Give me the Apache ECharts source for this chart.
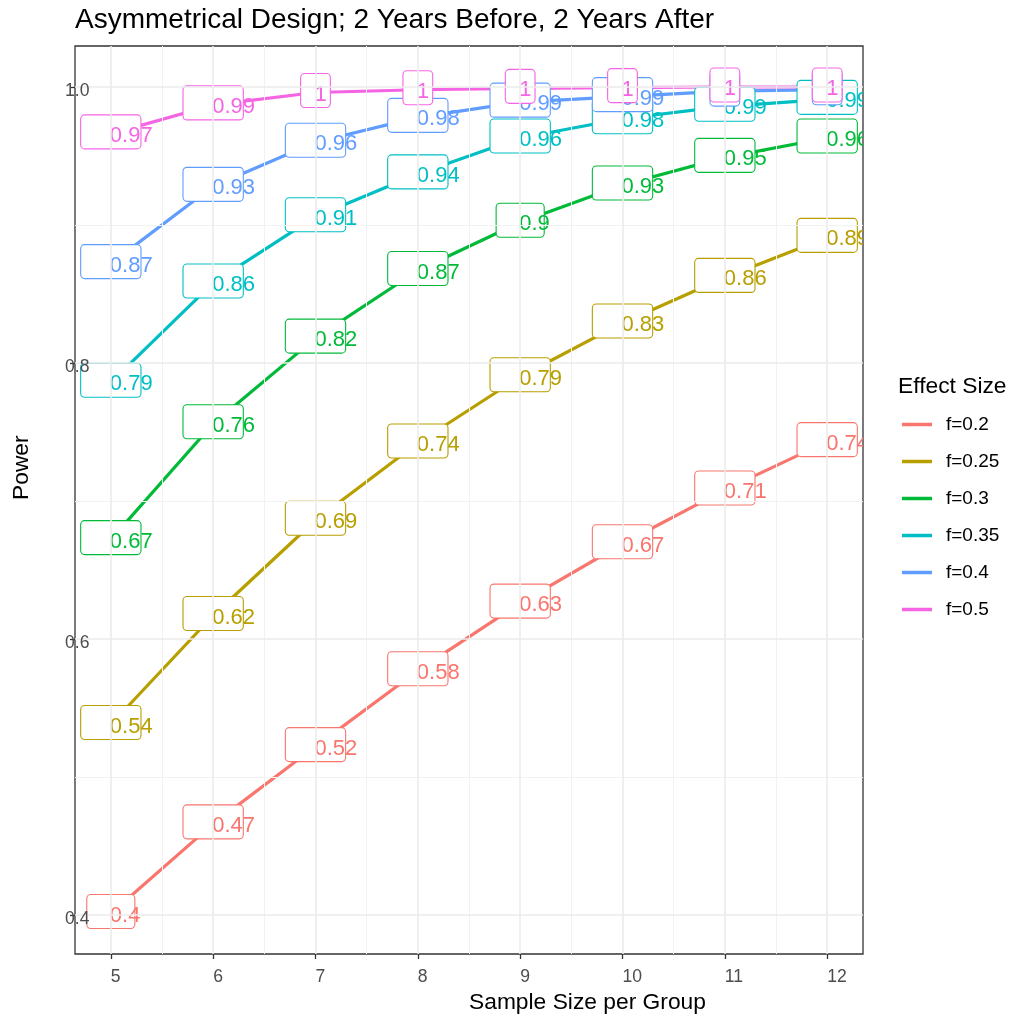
<!DOCTYPE html>
<html>
<head>
<meta charset="utf-8">
<script src="https://cdn.jsdelivr.net/npm/echarts@6/dist/echarts.min.js"></script>
<style>html,body{margin:0;padding:0;background:#fff;}#chart{width:1009px;height:1019px;}</style>
</head>
<body>
<div id="chart"></div>
<script>
// ---- data ----
const sampleSizes = [5, 6, 7, 8, 9, 10, 11, 12];
const groupNames = ['f=0.2', 'f=0.25', 'f=0.3', 'f=0.35', 'f=0.4', 'f=0.5'];
const powerF020 = [0.401, 0.466, 0.522, 0.577, 0.626, 0.669, 0.708, 0.743];
const powerF025 = [0.538, 0.617, 0.686, 0.742, 0.790, 0.829, 0.862, 0.891];
const powerF030 = [0.672, 0.756, 0.818, 0.867, 0.902, 0.929, 0.949, 0.963];
const powerF035 = [0.786, 0.858, 0.906, 0.937, 0.963, 0.977, 0.986, 0.991];
const powerF040 = [0.872, 0.928, 0.960, 0.978, 0.989, 0.993, 0.997, 0.998];
const powerF050 = [0.966, 0.987, 0.996, 0.998, 0.999, 0.9995, 1.0, 1.0];
const xTicks = [5, 6, 7, 8, 9, 10, 11, 12];
const xMinor = [5.5, 6.5, 7.5, 8.5, 9.5, 10.5, 11.5];
const yTicks = [0.4, 0.6, 0.8, 1.0];
const yMinor = [0.5, 0.7, 0.9];

const allPower = [powerF020, powerF025, powerF030, powerF035, powerF040, powerF050];
const colors = ['#F8766D', '#B79F00', '#00BA38', '#00BFC4', '#619CFF', '#F564E3'];
const FONT = '"Liberation Sans", Arial, Helvetica, sans-serif';
const LABEL_FS = 22;

const mctx = document.createElement('canvas').getContext('2d');
mctx.font = LABEL_FS + 'px ' + FONT;
function fmt(v) { return String(Math.round(v * 100) / 100); }

const chart = echarts.init(document.getElementById('chart'), null, {renderer: 'canvas'});

const series = [];
// grid lines
series.push({
  type: 'line', data: [], silent: true, z: 1,
  markLine: {
    silent: true, symbol: 'none', animation: false,
    label: {show: false},
    lineStyle: {color: '#F2F2F2', width: 1, type: 'solid'},
    data: xMinor.map(v => ({xAxis: v})).concat(yMinor.map(v => ({yAxis: v})))
  }
});
series.push({
  type: 'line', data: [], silent: true, z: 1,
  markLine: {
    silent: true, symbol: 'none', animation: false,
    label: {show: false},
    lineStyle: {color: '#EBEBEB', width: 1.6, type: 'solid'},
    data: xTicks.map(v => ({xAxis: v})).concat(yTicks.map(v => ({yAxis: v})))
  }
});
// lines
groupNames.forEach((name, gi) => {
  series.push({
    name: name, type: 'line', z: 3,
    data: sampleSizes.map((x, i) => [x, allPower[gi][i]]),
    showSymbol: false, symbol: 'none',
    lineStyle: {width: 3.2, color: colors[gi]},
    itemStyle: {color: colors[gi]},
    animation: false
  });
});
// labels
groupNames.forEach((name, gi) => {
  series.push({
    name: name + ' label', type: 'custom', z: 4,
    data: sampleSizes.map((x, i) => [x, allPower[gi][i]]),
    animation: false,
    renderItem: function (params, api) {
      const pt = api.coord([api.value(0), api.value(1)]);
      const txt = fmt(api.value(1));
      const tw = mctx.measureText(txt).width;
      const w = tw + 17.5, h = 34;
      const cs = params.coordSys;
      return {
        type: 'group',
        clipPath: {type: 'rect', shape: {x: cs.x, y: cs.y, width: cs.width, height: cs.height}},
        children: [
          {type: 'rect', z2: gi * 10 + 1,
           shape: {x: pt[0] - w / 2, y: pt[1] - 2 - h / 2, width: w, height: h, r: 4},
           style: {fill: '#ffffff', stroke: colors[gi], lineWidth: 1.1}},
          {type: 'text', z2: gi * 10 + 2,
           style: {x: pt[0] - 1, y: pt[1] + 2, text: txt, fill: colors[gi],
                   font: LABEL_FS + 'px ' + FONT, textAlign: 'left', textVerticalAlign: 'middle'}}
        ]
      };
    }
  });
});

const option = {
  backgroundColor: '#ffffff',
  animation: false,
  textStyle: {fontFamily: FONT},
  title: [
    {text: 'Asymmetrical Design; 2 Years Before, 2 Years After', left: 75, top: 6, padding: 0,
     textStyle: {fontSize: 28, fontWeight: 'normal', color: '#000', fontFamily: FONT}},
    {text: 'Effect Size', left: 898, top: 375, padding: 0,
     textStyle: {fontSize: 22.8, fontWeight: 'normal', color: '#000', fontFamily: FONT}}
  ],
  legend: {
    orient: 'vertical', left: 902, top: 415, padding: 0,
    itemWidth: 30, itemHeight: 3.5, itemGap: 18, icon: 'rect',
    selectedMode: false,
    data: groupNames,
    textStyle: {fontSize: 19, color: '#000', padding: [0, 0, 0, 9], lineHeight: 19, fontFamily: FONT}
  },
  grid: {
    left: 75, right: 146, top: 46, bottom: 65, containLabel: false,
    show: true, borderColor: '#333333', borderWidth: 1.3
  },
  xAxis: {
    type: 'value', min: 4.65, max: 12.35, z: 10,
    name: 'Sample Size per Group', nameLocation: 'middle', nameGap: 48,
    nameTextStyle: {fontSize: 22.8, color: '#000', align: 'left', verticalAlign: 'middle', fontFamily: FONT},
    axisLine: {show: false},
    axisTick: {show: true, length: 5, lineStyle: {color: '#333333', width: 1.3}, customValues: xTicks},
    axisLabel: {show: true, customValues: xTicks, fontSize: 17.6, color: '#4D4D4D', align: 'left', margin: 14,
                formatter: v => String(v), fontFamily: FONT},
    splitLine: {show: false}, minorSplitLine: {show: false}
  },
  yAxis: {
    type: 'value', min: 0.3717, max: 1.0297, z: 10,
    name: 'Power', nameLocation: 'middle', nameGap: 53, nameRotate: 90,
    nameTextStyle: {fontSize: 22.8, color: '#000', align: 'left', verticalAlign: 'middle', fontFamily: FONT},
    axisLine: {show: false},
    axisTick: {show: true, length: 5, lineStyle: {color: '#333333', width: 1.3}, customValues: yTicks},
    axisLabel: {show: true, customValues: yTicks, fontSize: 17.6, color: '#4D4D4D', align: 'left', margin: 10,
                verticalAlign: 'top', lineHeight: 8, formatter: v => Number(v).toFixed(1), fontFamily: FONT},
    splitLine: {show: false}, minorSplitLine: {show: false}
  },
  series: series
};
chart.setOption(option);
</script>
</body>
</html>
